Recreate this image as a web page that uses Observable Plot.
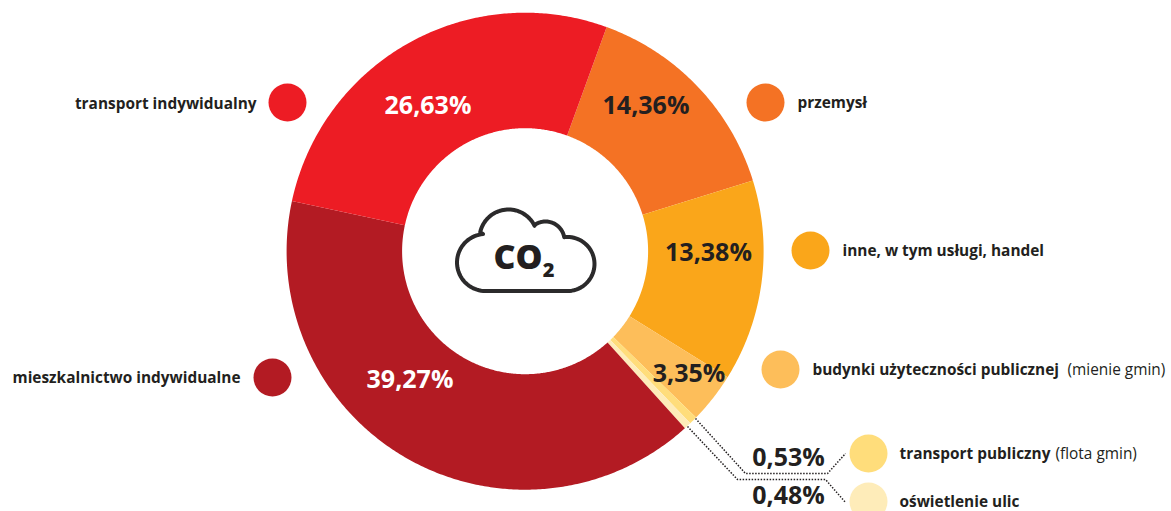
<!DOCTYPE html>
<html lang="pl">
<head>
<meta charset="utf-8">
<script src="https://cdn.jsdelivr.net/npm/d3@7"></script>
<script src="https://cdn.jsdelivr.net/npm/@observablehq/plot@0.6"></script>
<style>html,body{margin:0;padding:0;background:#fff;overflow:hidden}svg{display:block}</style>
</head>
<body>
<div id="chart"></div>
<script>
// Data, clockwise from the przemysł slice
const categories = ["przemysł", "inne, w tym usługi, handel", "budynki użyteczności publicznej", "transport publiczny", "oświetlenie ulic", "mieszkalnictwo indywidualne", "transport indywidualny"];
const shares = [14.36, 13.38, 3.35, 0.53, 0.48, 39.27, 26.63];
const shareLabels = ["14,36%", "13,38%", "3,35%", "0,53%", "0,48%", "39,27%", "26,63%"];
const colors = ["#F47224", "#FAA61A", "#FDBE5A", "#FFDD7B", "#FEECB9", "#B31B23", "#ED1C24"];
const labelNotes = ["", "", "(mienie gmin)", "(flota gmin)", "", "", ""];

// Layout (pixels in a 1171×511 frame)
const W = 1171, H = 511, CX = 524.6, CY = 250.7, R0 = 123, R1 = 238.5, START = 20;
const ink = "#231F20", font = "'Open Sans'";
const dotPos = [[765,102],[810,250],[780,369],[868,453],[868,501],[272,377],[287,102]];
const keyPos = [[797,102.5,"start"],[842,250.5,"start"],[812,369.5,"start"],[899,453.5,"start"],[899,501.5,"start"],[240,377.5,"end"],[256,103.5,"end"]];
const notePos = [null,null,[1067,369.5],[1055,453.5],null,null,null];
const pctPos = [[645.5,105,ink],[708,252,ink],[688.5,373,ink],[788,457,ink],[788,495,ink],[409.5,379,"#fff"],[427.5,105,"#fff"]];
const leaders = [
  {id:"a", pts:[[695,418],[745,473],[827,473],[845,453]]},
  {id:"b", pts:[[687,426],[737,479],[825,479],[845,502]]}
];

// Donut slices as closed polygons, from the shares
const total = d3.sum(shares);
const polar = (r, deg) => [CX + r * Math.sin(deg * Math.PI / 180), CY - r * Math.cos(deg * Math.PI / 180)];
let acc = START;
const slicePts = [];
categories.forEach((name, i) => {
  const a0 = acc, a1 = acc + shares[i] / total * 360;
  acc = a1;
  const n = Math.max(2, Math.ceil((a1 - a0) / 0.5));
  for (let k = 0; k <= n; k++) { const [x, y] = polar(R1, a0 + (a1 - a0) * k / n); slicePts.push({name, x, y}); }
  for (let k = n; k >= 0; k--) { const [x, y] = polar(R0, a0 + (a1 - a0) * k / n); slicePts.push({name, x, y}); }
});

// Cloud icon outline, as a chain of arcs
const arc = (cx, cy, r, a0, a1) => d3.range(0, 41).map(k => {
  const t = (a0 + (a1 - a0) * k / 40) * Math.PI / 180;
  return {x: cx + r * Math.cos(t), y: cy + r * Math.sin(t)};
});
const cloud = [
  ...arc(485, 262, 28.5, 90, 265),
  ...arc(508, 238, 29, 193, 334),
  ...arc(545, 240, 19, 236, 350),
  ...arc(567, 263.5, 27, 265, 450)
];
cloud.push(cloud[0]);

const rows = categories.map((name, i) => ({name, i}));
const startRows = rows.filter(d => keyPos[d.i][2] === "start");
const endRows = rows.filter(d => keyPos[d.i][2] === "end");
const noteRows = rows.filter(d => notePos[d.i]);
const leaderPts = leaders.flatMap(l => l.pts.map(([x, y]) => ({id: l.id, x, y})));

const chart = Plot.plot({
  width: W, height: H,
  margin: 0,
  style: {background: "#fff"},
  x: {domain: [0, W], range: [0, W], axis: null},
  y: {domain: [0, H], range: [0, H], axis: null},
  color: {domain: categories, range: colors},
  marks: [
    Plot.line(slicePts, {x: "x", y: "y", z: "name", fill: "name", stroke: "none", curve: "linear-closed"}),
    Plot.line(leaderPts, {x: "x", y: "y", z: "id", stroke: ink, strokeWidth: 1.5, strokeDasharray: "1.5 1.5", strokeLinecap: "butt", strokeLinejoin: "miter"}),
    Plot.line(cloud, {x: "x", y: "y", stroke: "#2B2A2B", strokeWidth: 4, strokeLinejoin: "round"}),
    Plot.text(["CO"], {x: () => 517.5, y: () => 258, text: d => d, fontFamily: font, fontWeight: 800, fontSize: 34, fill: ink}),
    Plot.text(["2"], {x: () => 548, y: () => 270, text: d => d, fontFamily: font, fontWeight: 800, fontSize: 20, fill: ink}),
    Plot.dot(rows, {x: d => dotPos[d.i][0], y: d => dotPos[d.i][1], r: 19, fill: "name"}),
    Plot.text(startRows, {x: d => keyPos[d.i][0], y: d => keyPos[d.i][1], text: "name", fontFamily: font, fontWeight: 700, fontSize: 15.4, fill: ink, textAnchor: "start"}),
    Plot.text(endRows, {x: d => keyPos[d.i][0], y: d => keyPos[d.i][1], text: "name", fontFamily: font, fontWeight: 700, fontSize: 15.4, fill: ink, textAnchor: "end"}),
    Plot.text(noteRows, {x: d => notePos[d.i][0], y: d => notePos[d.i][1], text: d => labelNotes[d.i], fontFamily: font, fontSize: 15.4, fill: ink, textAnchor: "start"}),
    Plot.text(rows, {x: d => pctPos[d.i][0], y: d => pctPos[d.i][1], text: d => shareLabels[d.i], fontFamily: font, fontWeight: 700, fontSize: 25, fill: d => pctPos[d.i][2]})
  ]
});
document.getElementById("chart").append(chart);
</script>
</body>
</html>
